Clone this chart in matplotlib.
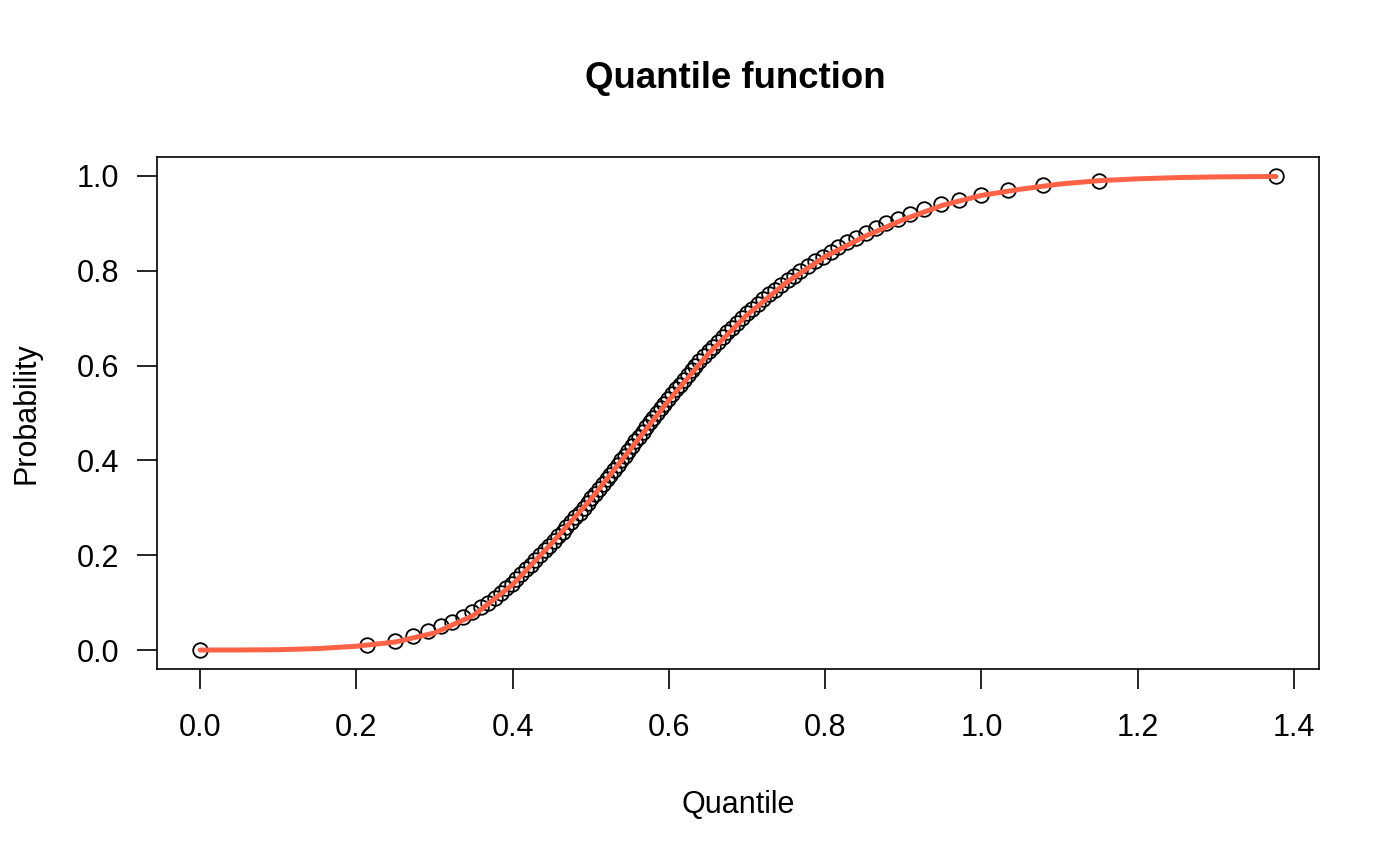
import numpy as np
import matplotlib
matplotlib.use("Agg")
import matplotlib.pyplot as plt

## data

# probability levels of the plotted points
probs = [0.00, 0.01, 0.02, 0.03, 0.04, 0.05, 0.06, 0.07, 0.08, 0.09,
         0.10, 0.11, 0.12, 0.13, 0.14, 0.15, 0.16, 0.17, 0.18, 0.19,
         0.20, 0.21, 0.22, 0.23, 0.24, 0.25, 0.26, 0.27, 0.28, 0.29,
         0.30, 0.31, 0.32, 0.33, 0.34, 0.35, 0.36, 0.37, 0.38, 0.39,
         0.40, 0.41, 0.42, 0.43, 0.44, 0.45, 0.46, 0.47, 0.48, 0.49,
         0.50, 0.51, 0.52, 0.53, 0.54, 0.55, 0.56, 0.57, 0.58, 0.59,
         0.60, 0.61, 0.62, 0.63, 0.64, 0.65, 0.66, 0.67, 0.68, 0.69,
         0.70, 0.71, 0.72, 0.73, 0.74, 0.75, 0.76, 0.77, 0.78, 0.79,
         0.80, 0.81, 0.82, 0.83, 0.84, 0.85, 0.86, 0.87, 0.88, 0.89,
         0.90, 0.91, 0.92, 0.93, 0.94, 0.95, 0.96, 0.97, 0.98, 0.99,
         1.00]

# quantiles at those levels
quants = [0.000, 0.214, 0.249, 0.273, 0.292, 0.309, 0.323, 0.336, 0.348, 0.359,
          0.369, 0.377, 0.385, 0.392, 0.399, 0.405, 0.411, 0.417, 0.423, 0.429,
          0.435, 0.441, 0.447, 0.453, 0.458, 0.464, 0.469, 0.475, 0.480, 0.486,
          0.491, 0.496, 0.501, 0.506, 0.511, 0.516, 0.521, 0.525, 0.530, 0.535,
          0.539, 0.544, 0.548, 0.553, 0.557, 0.562, 0.567, 0.571, 0.576, 0.580,
          0.585, 0.590, 0.594, 0.599, 0.604, 0.609, 0.614, 0.619, 0.624, 0.629,
          0.634, 0.639, 0.645, 0.651, 0.657, 0.663, 0.669, 0.675, 0.681, 0.687,
          0.693, 0.700, 0.707, 0.714, 0.721, 0.728, 0.736, 0.744, 0.752, 0.760,
          0.768, 0.778, 0.787, 0.797, 0.807, 0.817, 0.828, 0.840, 0.852, 0.865,
          0.878, 0.893, 0.909, 0.927, 0.948, 0.971, 0.999, 1.034, 1.079, 1.151,
          1.377]

# the red (theoretical) curve
curveX = [0.00, 0.05, 0.10, 0.15, 0.20, 0.25, 0.30, 0.35, 0.40, 0.45,
          0.50, 0.55, 0.60, 0.65, 0.70, 0.75, 0.80, 0.85, 0.90, 0.95,
          1.00, 1.05, 1.10, 1.15, 1.20, 1.25, 1.30, 1.377]
curveP = [0.0, 0.0001, 0.0007, 0.003, 0.008, 0.017, 0.036, 0.073, 0.138, 0.225,
          0.318, 0.422, 0.527, 0.624, 0.707, 0.775, 0.830, 0.872, 0.908, 0.938,
          0.959, 0.972, 0.983, 0.990, 0.994, 0.9965, 0.998, 0.999]

xTicks = [0.0, 0.2, 0.4, 0.6, 0.8, 1.0, 1.2, 1.4]
yTicks = [0.0, 0.2, 0.4, 0.6, 0.8, 1.0]

## plot

plt.rcParams['font.family'] = ['Liberation Sans', 'DejaVu Sans']
fs = 22

fig = plt.figure(figsize=(14, 8.66), dpi=100)
ax = fig.add_axes([157/1400, 1-669/866, (1319-157)/1400, (669-157)/866])

ax.plot(quants, probs, linestyle='none', marker='o', markersize=10.5,
        markerfacecolor='none', markeredgecolor='black', markeredgewidth=1.3)
ax.plot(curveX, curveP, color='tomato', linewidth=3.6, solid_capstyle='round')

# R style 4% padding
xr = max(quants) - min(quants)
ax.set_xlim(min(quants) - 0.04*xr, max(quants) + 0.04*xr)
ax.set_ylim(-0.04, 1.04)

ax.set_xticks(xTicks)
ax.set_xticklabels(["%.1f" % t for t in xTicks])
ax.set_yticks(yTicks)
ax.set_yticklabels(["%.1f" % t for t in yTicks])
ax.tick_params(axis='x', length=14.4, width=1.2, labelsize=fs, pad=17)
ax.tick_params(axis='y', length=14.4, width=1.2, labelsize=fs, pad=13)
for s in ax.spines.values():
    s.set_linewidth(1.2)

fig.text(735/1400, 1-79/866, "Quantile function", ha='center', va='center',
         fontsize=fs*1.2, fontweight='bold')
fig.text(738/1400, 1-805/866, "Quantile", ha='center', va='center', fontsize=fs)
fig.text(27/1400, 1-413/866, "Probability", ha='center', va='center',
         fontsize=fs, rotation=90)

fig.savefig("out.png", dpi=100)
